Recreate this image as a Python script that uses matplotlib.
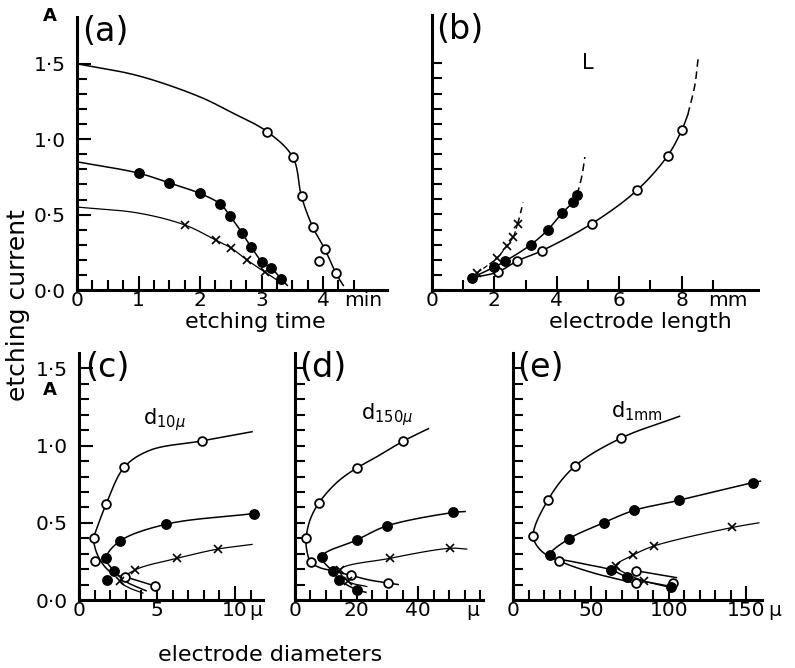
import numpy as np
import matplotlib
matplotlib.use("Agg")
import matplotlib.pyplot as plt
from matplotlib.ticker import FixedLocator

plt.rcParams['font.family'] = ['DejaVu Sans']

# ---------------- data ----------------
# (a) etching current vs etching time
a_open_curve_t = [0, 1.0, 2.0, 2.5, 3.09, 3.51, 3.65, 3.83, 4.03, 4.21, 4.33]
a_open_curve_I = [1.50, 1.42, 1.28, 1.18, 1.05, 0.88, 0.62, 0.42, 0.27, 0.11, 0.03]
a_open_t = [3.09, 3.51, 3.65, 3.83, 4.03, 3.94, 4.21]
a_open_I = [1.05, 0.88, 0.62, 0.42, 0.27, 0.19, 0.11]
a_fill_curve_t = [0, 1.0, 1.5, 2.0, 2.33, 2.49, 2.68, 2.83, 3.01, 3.16, 3.32, 3.42]
a_fill_curve_I = [0.85, 0.775, 0.71, 0.64, 0.57, 0.49, 0.38, 0.285, 0.185, 0.145, 0.073, 0.03]
a_fill_t = [1.0, 1.5, 2.0, 2.33, 2.49, 2.68, 2.83, 3.01, 3.16, 3.32]
a_fill_I = [0.775, 0.71, 0.64, 0.57, 0.49, 0.38, 0.285, 0.185, 0.145, 0.073]
a_cross_curve_t = [0, 1.0, 1.76, 2.26, 2.5, 2.76, 3.05, 3.35]
a_cross_curve_I = [0.55, 0.51, 0.43, 0.33, 0.28, 0.20, 0.12, 0.04]
a_cross_t = [1.76, 2.26, 2.5, 2.76, 3.05]
a_cross_I = [0.43, 0.33, 0.28, 0.20, 0.12]

# (b) etching current vs electrode length
b_open_L = [1.28, 2.12, 2.71, 3.52, 5.13, 6.57, 7.56, 8.01, 8.2]
b_open_I = [0.08, 0.12, 0.19, 0.26, 0.44, 0.66, 0.89, 1.06, 1.16]
b_open_dash_L = [8.2, 8.42, 8.53]
b_open_dash_I = [1.16, 1.35, 1.53]
b_fill_L = [1.27, 1.99, 2.34, 3.17, 3.72, 4.17, 4.52, 4.65]
b_fill_I = [0.08, 0.15, 0.19, 0.30, 0.40, 0.51, 0.58, 0.63]
b_fill_dash_L = [4.65, 4.8, 4.9]
b_fill_dash_I = [0.63, 0.75, 0.88]
b_cross_L = [1.27, 1.43, 2.07, 2.39, 2.6, 2.75]
b_cross_I = [0.08, 0.11, 0.21, 0.29, 0.35, 0.44]
b_cross_dash_L = [2.75, 2.85, 2.92]
b_cross_dash_I = [0.44, 0.52, 0.58]

# (c) d = 10 micron
c_open_curve_d = [11.1, 7.86, 4.55, 2.9, 1.74, 1.2, 0.95, 1.05, 1.35, 1.8, 2.3, 2.94, 4.9]
c_open_curve_I = [1.09, 1.03, 0.97, 0.86, 0.62, 0.48, 0.40, 0.33, 0.26, 0.20, 0.165, 0.15, 0.09]
c_open_d = [7.86, 2.9, 1.74, 0.95, 1.0, 2.94, 4.9]
c_open_I = [1.03, 0.86, 0.62, 0.40, 0.25, 0.15, 0.09]
c_fill_curve_d = [11.2, 5.55, 2.6, 1.74, 2.23, 3.0, 4.3]
c_fill_curve_I = [0.56, 0.49, 0.38, 0.27, 0.19, 0.12, 0.06]
c_fill_d = [11.2, 5.55, 2.6, 1.74, 2.23, 1.8]
c_fill_I = [0.56, 0.49, 0.38, 0.27, 0.19, 0.13]
c_cross_curve_d = [11.1, 8.9, 6.3, 3.6, 2.65, 3.2, 4.1]
c_cross_curve_I = [0.36, 0.33, 0.27, 0.195, 0.12, 0.08, 0.045]
c_cross_d = [8.9, 6.3, 3.6, 2.65]
c_cross_I = [0.33, 0.27, 0.195, 0.12]

# (d) d = 150 micron
d_open_curve_d = [43.3, 35.2, 27.6, 20.0, 13.5, 7.8, 4.9, 3.6, 3.8, 5.1, 8.0, 12.0, 18.1, 24.0, 30.3, 33.5]
d_open_curve_I = [1.11, 1.03, 0.94, 0.855, 0.76, 0.63, 0.52, 0.40, 0.325, 0.245, 0.21, 0.19, 0.16, 0.13, 0.11, 0.10]
d_open_d = [35.2, 20.0, 7.8, 3.6, 5.1, 18.1, 30.3]
d_open_I = [1.03, 0.855, 0.63, 0.40, 0.245, 0.16, 0.11]
d_fill_curve_d = [55.2, 51.4, 29.8, 20.2, 8.7, 12.2, 14.4, 20.2, 23.0]
d_fill_curve_I = [0.573, 0.567, 0.48, 0.39, 0.28, 0.185, 0.13, 0.065, 0.05]
d_fill_d = [51.4, 29.8, 20.2, 8.7, 12.2, 14.4, 20.2]
d_fill_I = [0.567, 0.48, 0.39, 0.28, 0.185, 0.13, 0.065]
d_cross_curve_d = [55.7, 50.3, 30.8, 14.6, 17.3, 23.3]
d_cross_curve_I = [0.33, 0.335, 0.27, 0.195, 0.12, 0.087]
d_cross_d = [50.3, 30.8, 14.6, 17.3]
d_cross_I = [0.335, 0.27, 0.195, 0.12]

# (e) d = 1 mm
e_open_curve_d = [107, 69.7, 39.7, 22.6, 13.0, 18.0, 29.7, 50.0, 78.8]
e_open_curve_I = [1.19, 1.05, 0.866, 0.65, 0.415, 0.32, 0.253, 0.18, 0.108]
e_open_seg_d = [78.8, 105]
e_open_seg_I = [0.19, 0.145]
e_open_d = [69.7, 39.7, 22.6, 13.0, 29.7, 78.8, 78.8, 102.8]
e_open_I = [1.05, 0.866, 0.65, 0.415, 0.253, 0.19, 0.108, 0.113]
e_fill_curve_d = [159, 154, 106.4, 77.6, 58.3, 35.9, 23.7, 40.0, 63.2, 73.5, 101.7]
e_fill_curve_I = [0.77, 0.76, 0.645, 0.58, 0.50, 0.396, 0.29, 0.245, 0.195, 0.147, 0.087]
e_fill_d = [154, 106.4, 77.6, 58.3, 35.9, 23.7, 63.2, 73.5, 101.7]
e_fill_I = [0.76, 0.645, 0.58, 0.50, 0.396, 0.29, 0.195, 0.147, 0.087]
e_cross_curve_d = [158, 141, 90.6, 77, 66, 75, 84.2, 98.5]
e_cross_curve_I = [0.50, 0.47, 0.35, 0.29, 0.22, 0.16, 0.123, 0.087]
e_cross_d = [141, 90.6, 77, 66, 84.2]
e_cross_I = [0.47, 0.35, 0.29, 0.22, 0.123]

y_tick_vals = [0.0, 0.5, 1.0, 1.5]
y_tick_labels = ["0·0", "0·5", "1·0", "1·5"]

# ---------------- figure ----------------
W, H = 795, 668
fig = plt.figure(figsize=(W / 100, H / 100), dpi=100)
XPAD = 1.0
TICKFS = 14.5


def add_ax(x0, y_top, x1, y_bot):
    return fig.add_axes([x0 / W, 1 - y_bot / H, (x1 - x0) / W, (y_bot - y_top) / H])


def smooth(ax, xs, ys, n=24):
    pts = ax.transData.transform(np.column_stack([xs, ys]))
    if len(pts) < 3:
        return xs, ys
    P = np.vstack([2 * pts[0] - pts[1], pts, 2 * pts[-1] - pts[-2]])
    out = []
    a = 0.5
    for i in range(1, len(P) - 2):
        p0, p1, p2, p3 = P[i - 1], P[i], P[i + 1], P[i + 2]
        t0 = 0.0
        t1 = t0 + max(np.linalg.norm(p1 - p0), 1e-6) ** a
        t2 = t1 + max(np.linalg.norm(p2 - p1), 1e-6) ** a
        t3 = t2 + max(np.linalg.norm(p3 - p2), 1e-6) ** a
        t = np.linspace(t1, t2, n)[:, None]
        A1 = (t1 - t) / (t1 - t0) * p0 + (t - t0) / (t1 - t0) * p1
        A2 = (t2 - t) / (t2 - t1) * p1 + (t - t1) / (t2 - t1) * p2
        A3 = (t3 - t) / (t3 - t2) * p2 + (t - t2) / (t3 - t2) * p3
        B1 = (t2 - t) / (t2 - t0) * A1 + (t - t0) / (t2 - t0) * A2
        B2 = (t3 - t) / (t3 - t1) * A2 + (t - t1) / (t3 - t1) * A3
        C = (t2 - t) / (t2 - t1) * B1 + (t - t1) / (t2 - t1) * B2
        out.append(C if i == 1 else C[1:])
    C = np.vstack(out)
    d = ax.transData.inverted().transform(C)
    return d[:, 0], d[:, 1]


def curve(ax, xs, ys, ls='-', lw=1.1):
    sx, sy = smooth(ax, xs, ys)
    ax.plot(sx, sy, color='black', lw=lw, ls=ls, clip_on=False, zorder=2)


def marks(ax, xs, ys, kind):
    if kind == 'open':
        ax.plot(xs, ys, ls='none', marker='o', ms=6.3, mfc='white', mec='black', mew=1.3, clip_on=False, zorder=3)
    elif kind == 'fill':
        ax.plot(xs, ys, ls='none', marker='o', ms=6.8, mfc='black', mec='black', clip_on=False, zorder=3)
    else:
        ax.plot(xs, ys, ls='none', marker='x', ms=5.5, mec='black', mew=1.2, clip_on=False, zorder=3)


def unit(ax, x, s):
    ax.annotate(s, xy=(x, 0), xycoords=('data', 'axes fraction'), xytext=(0, -XPAD),
                textcoords='offset points', ha='center', va='top', fontsize=TICKFS, annotation_clip=False)


def style(ax, xmax, ymax, xmajor, xminor, ymin_step=0.1, ymax_tick=1.5):
    ax.set_xlim(0, xmax)
    ax.set_ylim(0, ymax)
    for s in ['top', 'right']:
        ax.spines[s].set_visible(False)
    for s in ['left', 'bottom']:
        ax.spines[s].set_linewidth(2.2)
    ax.set_facecolor('none')
    ax.xaxis.set_major_locator(FixedLocator(xmajor))
    ax.xaxis.set_minor_locator(FixedLocator(xminor))
    ax.yaxis.set_major_locator(FixedLocator(y_tick_vals))
    ax.yaxis.set_minor_locator(FixedLocator(list(np.round(np.arange(0.1, ymax_tick + 0.01, ymin_step), 2))))
    ax.tick_params(which='major', direction='in', length=10, width=1.5, labelsize=TICKFS)
    ax.tick_params(which='minor', direction='in', length=7, width=1.5)
    ax.tick_params(axis='x', which='major', pad=XPAD)
    ax.set_yticklabels([])


# (a)
axa = add_ax(77, 17, 387, 290)
style(axa, 5.04, 1.81, [0, 1, 2, 3, 4], [0.25, 0.5, 0.75, 1.25, 1.5, 1.75, 2.25, 2.5, 2.75, 3.25, 3.5, 3.75, 4.25, 4.5])
axa.set_xticklabels(['0', '1', '2', '3', '4'])
axa.set_yticklabels(y_tick_labels)
axa.tick_params(axis='y', which='major', labelsize=TICKFS, pad=8)
curve(axa, a_open_curve_t, a_open_curve_I)
curve(axa, a_fill_curve_t, a_fill_curve_I)
curve(axa, a_cross_curve_t, a_cross_curve_I, lw=0.9)
marks(axa, a_open_t, a_open_I, 'open')
marks(axa, a_fill_t, a_fill_I, 'fill')
marks(axa, a_cross_t, a_cross_I, 'cross')
unit(axa, 4.65, 'min')

# (b)
axb = add_ax(432, 15, 758, 290)
style(axb, 10.45, 1.82, [0, 2, 4, 6, 8], [1, 3, 5, 7, 9])
axb.set_xticklabels(['0', '2', '4', '6', '8'])
axb.tick_params(axis='y', which='major', length=7)
curve(axb, b_open_L, b_open_I)
curve(axb, b_open_dash_L, b_open_dash_I, ls=(0, (5, 3)))
curve(axb, b_fill_L, b_fill_I)
curve(axb, b_fill_dash_L, b_fill_dash_I, ls=(0, (5, 3)))
curve(axb, b_cross_L, b_cross_I, ls=(0, (4, 2)), lw=0.9)
curve(axb, b_cross_dash_L, b_cross_dash_I, ls=(0, (4, 3)))
marks(axb, b_open_L[1:-1], b_open_I[1:-1], 'open')
marks(axb, b_fill_L, b_fill_I, 'fill')
marks(axb, b_cross_L[1:], b_cross_I[1:], 'cross')
unit(axb, 9.5, 'mm')
axb.text(5.0, 1.5, 'L', ha='center', va='center', fontsize=15)

# (c)
axc = add_ax(79, 353, 263, 600)
style(axc, 11.8, 1.6, [0, 5, 10], [1, 2, 3, 4, 6, 7, 8, 9, 11])
axc.set_xticklabels(['0', '5', '10'])
axc.set_yticklabels(y_tick_labels)
axc.tick_params(axis='y', which='major', labelsize=TICKFS, pad=8)
curve(axc, c_open_curve_d, c_open_curve_I)
curve(axc, c_fill_curve_d, c_fill_curve_I)
curve(axc, c_cross_curve_d, c_cross_curve_I, lw=0.9)
marks(axc, c_open_d, c_open_I, 'open')
marks(axc, c_fill_d, c_fill_I, 'fill')
marks(axc, c_cross_d, c_cross_I, 'cross')
unit(axc, 11.35, 'μ')
axc.text(5.5, 1.17, r'd$_{10\mu}$', ha='center', va='center', fontsize=15)

# (d)
axd = add_ax(295, 353, 483, 600)
style(axd, 61, 1.6, [0, 20, 40], [5, 10, 15, 25, 30, 35, 45, 50, 55, 60])
axd.set_xticklabels(['0', '20', '40'])
axd.tick_params(axis='y', which='major', length=7)
curve(axd, d_open_curve_d, d_open_curve_I)
curve(axd, d_fill_curve_d, d_fill_curve_I)
curve(axd, d_cross_curve_d, d_cross_curve_I, lw=0.9)
marks(axd, d_open_d, d_open_I, 'open')
marks(axd, d_fill_d, d_fill_I, 'fill')
marks(axd, d_cross_d, d_cross_I, 'cross')
unit(axd, 57.5, 'μ')
axd.text(30, 1.2, r'd$_{150\mu}$', ha='center', va='center', fontsize=15)

# (e)
axe = add_ax(513, 353, 762, 600)
style(axe, 160, 1.6, [0, 50, 100, 150], [10, 20, 30, 40, 60, 70, 80, 90, 110, 120, 130, 140])
axe.set_xticklabels(['0', '50', '100', '150'])
axe.tick_params(axis='y', which='major', length=7)
curve(axe, e_open_curve_d, e_open_curve_I)
curve(axe, e_open_seg_d, e_open_seg_I)
curve(axe, e_fill_curve_d, e_fill_curve_I)
curve(axe, e_cross_curve_d, e_cross_curve_I, lw=0.9)
marks(axe, e_open_d, e_open_I, 'open')
marks(axe, e_fill_d, e_fill_I, 'fill')
marks(axe, e_cross_d, e_cross_I, 'cross')
unit(axe, 168, 'μ')
axe.text(80, 1.22, r'd$_{1\mathrm{mm}}$', ha='center', va='center', fontsize=15)

# panel letters and units
for ax, lab, dx in [(axa, '(a)', 5), (axb, '(b)', 4), (axc, '(c)', 6), (axd, '(d)', 4), (axe, '(e)', 4)]:
    ax.annotate(lab, xy=(0, 1), xycoords='axes fraction', xytext=(dx, 2), textcoords='offset pixels',
                ha='left', va='top', fontsize=24)
fig.text(50 / W, 1 - 16 / H, 'A', ha='center', va='center', fontsize=13, fontweight='bold')
fig.text(50 / W, 1 - 390 / H, 'A', ha='center', va='center', fontsize=13, fontweight='bold')

# axis titles
fig.text(18 / W, 1 - 305 / H, 'etching current', rotation=90, ha='center', va='center', fontsize=18)
fig.text(255 / W, 1 - 322 / H, 'etching time', ha='center', va='center', fontsize=16)
fig.text(640 / W, 1 - 322 / H, 'electrode length', ha='center', va='center', fontsize=16)
fig.text(270 / W, 1 - 655 / H, 'electrode diameters', ha='center', va='center', fontsize=16)

fig.savefig('out.png', dpi=100)
